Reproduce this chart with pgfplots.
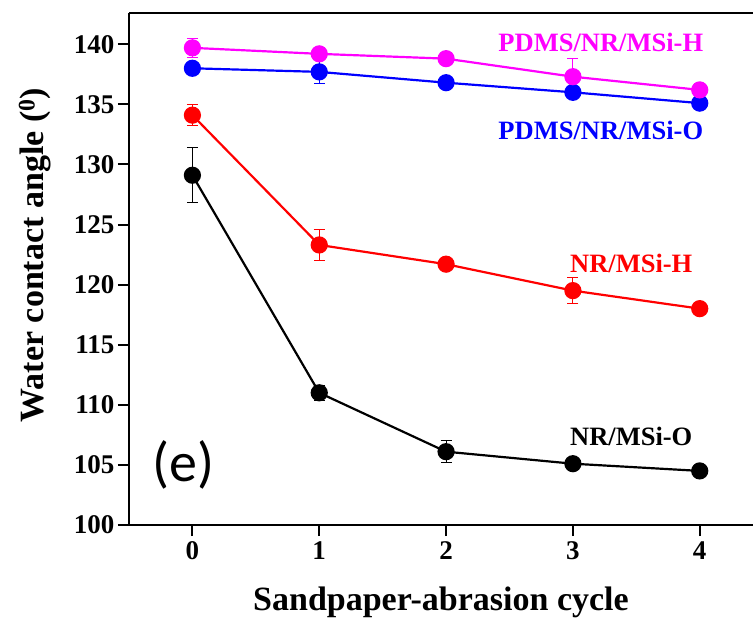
\documentclass[border=0pt]{standalone}
\usepackage{fontspec}
\setmainfont{Liberation Serif}[BoldFont={Liberation Serif Bold}]
\newfontfamily\tnr{Liberation Serif}[BoldFont={Liberation Serif Bold}]
\newfontfamily\sansf{Carlito}
\usepackage{pgfplots}
\pgfplotsset{compat=1.18}
\definecolor{mag}{RGB}{255,0,255}
\definecolor{blu}{RGB}{0,0,255}
\definecolor{rd}{RGB}{255,0,0}
\begin{document}
\begin{tikzpicture}
\begin{axis}[
  scale only axis, width=624bp, height=512bp,
  xmin=-0.5, xmax=4.42, ymin=100, ymax=142.6,
  axis x line=box, axis y line=left,
  axis line style={-, line width=2pt},
  xtick={0,1,2,3,4}, ytick={100,105,...,140},
  xtick pos=left, ytick pos=left,
  tick align=outside, major tick length=11bp,
  tick style={line width=2pt, black},
  /pgf/number format/assume math mode=true,
  tick label style={font=\tnr\fontsize{27bp}{30bp}\selectfont\bfseries},
  xticklabel style={yshift=-2bp},
  label style={font=\tnr\fontsize{34bp}{38bp}\selectfont\bfseries},
  xlabel={Sandpaper-abrasion cycle},
  ylabel={Water contact angle (\textsuperscript{0})},
  xlabel style={yshift=-20bp},
  ylabel style={yshift=16bp, xshift=14bp},
  error bars/y dir=both, error bars/y explicit,
  error bars/error bar style={line width=1pt},
  error bars/error mark options={rotate=90, mark size=5.5bp, line width=1pt},
  clip=false,
]
% NR/MSi-O
\addplot[black, line width=2.2pt, mark=*, mark size=7.5bp, mark options={fill=black, draw=black, solid}] table[x=x, y=y, y error=e] {
x y e
0 129.1 2.3
1 111.0 0.6
2 106.1 0.9
3 105.1 0.3
4 104.5 0.4
};
% NR/MSi-H
\addplot[rd, line width=2.2pt, mark=*, mark size=7.5bp, mark options={fill=rd, draw=rd}] table[x=x, y=y, y error=e] {
x y e
0 134.1 0.9
1 123.3 1.3
2 121.7 0.2
3 119.5 1.1
4 118.0 0.2
};
% PDMS/NR/MSi-O
\addplot[blu, line width=2.2pt, mark=*, mark size=7.5bp, mark options={fill=blu, draw=blu}] table[x=x, y=y, y error=e] {
x y e
0 138.0 0.5
1 137.7 1.0
2 136.8 0.3
3 136.0 0.3
4 135.1 0.4
};
% PDMS/NR/MSi-H
\addplot[mag, line width=2.2pt, mark=*, mark size=7.5bp, mark options={fill=mag, draw=mag}] table[x=x, y=y, y error=e] {
x y e
0 139.7 0.8
1 139.2 0.5
2 138.8 0.5
3 137.3 1.5
4 136.2 0.5
};
\node[mag, font=\tnr\fontsize{26.5bp}{29bp}\selectfont\bfseries] at (axis cs:3.22,140.14) {PDMS/NR/MSi-H};
\node[blu, font=\tnr\fontsize{26.5bp}{29bp}\selectfont\bfseries] at (axis cs:3.22,132.8) {PDMS/NR/MSi-O};
\node[rd, font=\tnr\fontsize{26.5bp}{29bp}\selectfont\bfseries] at (axis cs:3.46,121.8) {NR/MSi-H};
\node[black, font=\tnr\fontsize{26.5bp}{29bp}\selectfont\bfseries] at (axis cs:3.46,107.4) {NR/MSi-O};
\node[font=\fontsize{56bp}{62bp}\sansf] at (axis cs:-0.07,105.0) {(e)};
\end{axis}
\pgfresetboundingbox
\path ([shift={(-129bp,-93bp)}]current axis.south west) rectangle ([shift={(0bp,13bp)}]current axis.north east);
\end{tikzpicture}
\end{document}
